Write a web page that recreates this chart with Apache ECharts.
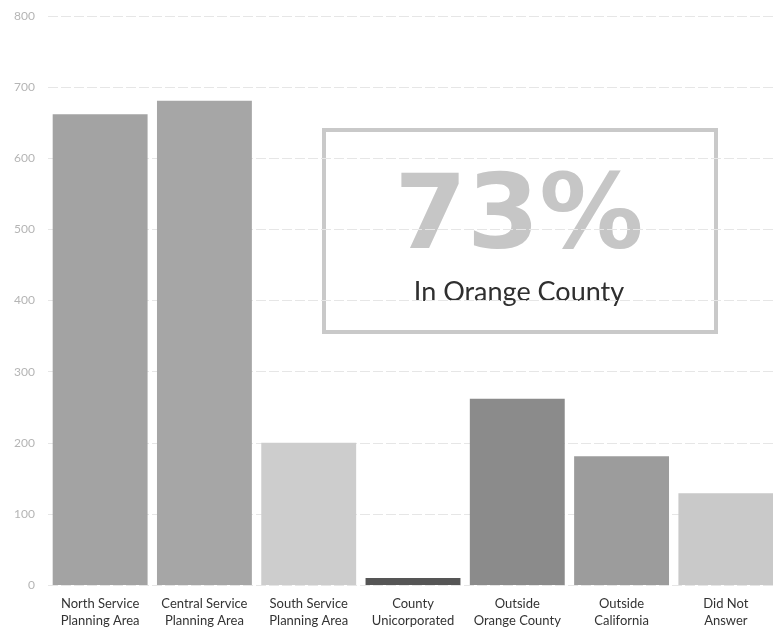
<!DOCTYPE html>
<html>
<head>
<meta charset="utf-8">
<style>
  html, body { margin: 0; padding: 0; background: #fff; overflow: hidden; }
  #chart { width: 780px; height: 629px; }
</style>
<script src="https://cdn.jsdelivr.net/npm/echarts@6/dist/echarts.min.js"></script>
</head>
<body>
<div id="chart"></div>
<script>
// Respondents by location
const categories = [
  'North Service\nPlanning Area',
  'Central Service\nPlanning Area',
  'South Service\nPlanning Area',
  'County\nUnicorporated',
  'Outside\nOrange County',
  'Outside\nCalifornia',
  'Did Not\nAnswer'
];
const counts = [662, 681, 200, 10, 262, 181, 129];
const barColors = ['#a3a3a3', '#a6a6a6', '#cdcdcd', '#555555', '#8b8b8b', '#9c9c9c', '#c9c9c9'];
const yTicks = [0, 100, 200, 300, 400, 500, 600, 700, 800];

const calloutValue = '73%';
const calloutText = 'In Orange County';

const fontFamily = 'Lato, "Noto Sans", sans-serif';

const chart = echarts.init(document.getElementById('chart'));
chart.setOption({
  animation: false,
  backgroundColor: '#ffffff',
  grid: { left: 48, right: 2, top: 16, bottom: 44, containLabel: false },
  xAxis: {
    type: 'category',
    data: categories,
    axisLine: { show: false },
    axisTick: { show: false },
    axisLabel: {
      color: '#333333',
      fontFamily: fontFamily,
      fontSize: 13,
      lineHeight: 17,
      margin: 10,
      interval: 0
    }
  },
  yAxis: {
    type: 'value',
    min: yTicks[0],
    max: yTicks[yTicks.length - 1],
    interval: 100,
    axisLine: { show: false },
    axisTick: { show: false },
    axisLabel: {
      color: '#b5b5b5',
      fontFamily: fontFamily,
      fontSize: 12,
      margin: 13
    },
    splitLine: {
      lineStyle: { color: '#e6e6e6', width: 1, type: [10, 3] }
    }
  },
  series: [{
    type: 'bar',
    barCategoryGap: '9%',
    data: counts.map((v, i) => ({ value: v, itemStyle: { color: barColors[i] } }))
  }],
  graphic: [{
    type: 'group',
    left: 322,
    top: 128,
    children: [
      {
        type: 'rect',
        shape: { x: 2, y: 2, width: 392, height: 202 },
        style: { fill: '#ffffff', stroke: '#c9c9c9', lineWidth: 4 }
      },
      {
        type: 'text',
        x: 197,
        y: 93,
        style: {
          text: calloutValue,
          fontFamily: '"DejaVu Sans", sans-serif',
          fontSize: 104,
          fontWeight: 'bold',
          fill: '#c6c6c6',
          align: 'center',
          verticalAlign: 'middle'
        }
      },
      {
        type: 'text',
        x: 197,
        y: 164,
        style: {
          text: calloutText,
          fontFamily: fontFamily,
          fontSize: 27,
          fill: '#2f2f2f',
          align: 'center',
          verticalAlign: 'middle'
        }
      }
    ]
  }]
});
</script>
</body>
</html>
